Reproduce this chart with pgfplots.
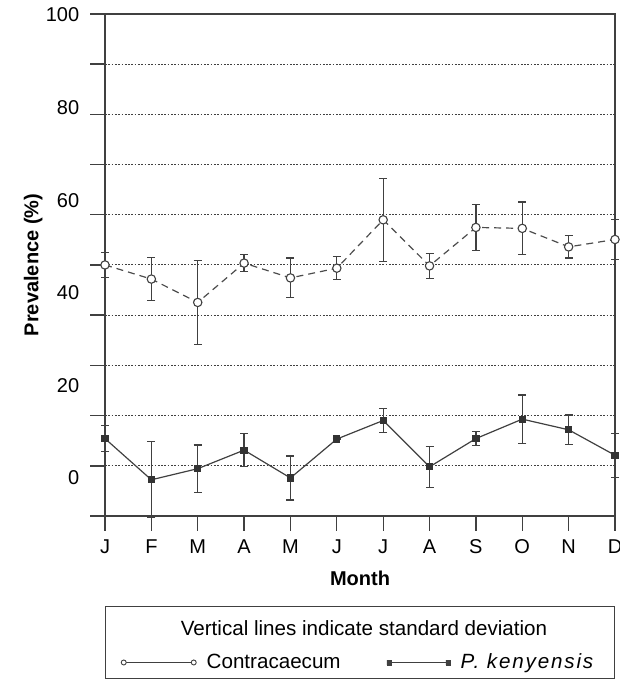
\documentclass[border=0pt]{standalone}
\usepackage{fontspec}
\setmainfont{Liberation Sans}
\usepackage{pgfplots}
\usepackage{pgfplotstable}
\pgfplotsset{compat=1.18}
\pgfplotstableread{
x y e
1 46.0 2.65
2 42.95 4.7
3 37.9 9.1
4 46.4 1.9
5 43.2 4.3
6 45.3 2.5
7 55.75 9.0
8 45.8 2.65
9 54.1 4.9
10 53.9 5.7
11 49.9 2.4
12 51.5 4.3
}\contra
\pgfplotstableread{
x y e
1 8.5 2.8
2 -0.4 8.2
3 2.0 5.1
4 6.0 3.6
5 0.0 4.75
6 8.4 0
7 12.4 2.55
8 2.4 4.4
9 8.5 1.5
10 12.7 5.2
11 10.4 3.2
12 4.9 4.75
}\kenya
\begin{document}
\fontsize{20pt}{24pt}\selectfont
\begin{tikzpicture}[font=\fontsize{20pt}{24pt}\selectfont]
\useasboundingbox (0,0) rectangle (619pt,680pt);
\begin{axis}[
  at={(105pt,164pt)}, anchor=south west,
  scale only axis, width=510pt, height=502pt,
  xmin=1, xmax=12, ymin=-8.22, ymax=100.2,
  clip=false,
  axis line style={black!75, line width=1.3pt},
  tick style={black!75, line width=1.3pt},
  tick align=outside, major tick length=15pt,
  tick pos=left,
  /pgf/number format/assume math mode=true,
  xtick={1,...,12},
  xticklabels={J,F,M,A,M,J,J,A,S,O,N,D},
  xticklabel style={yshift=-2pt},
  ytick={-8.22,2.61,13.45,24.3,35.16,46.0,56.83,67.69,78.53,89.37,100.2},
  yticklabels={},
  ymajorgrids,
  major grid style={black!75, line width=1pt, dash pattern=on 1.7pt off 1.6pt},
  extra y ticks={0,20,40,60,80,100},
  extra y tick labels={0,20,40,60,80,100},
  extra y tick style={tick style={draw=none}, grid=none, yticklabel style={xshift=-4pt}},
  xlabel={\textbf{Month}},
  ylabel={\textbf{Prevalence (\%)}},
  xlabel style={at={(axis description cs:0.5,-0.1235)}, anchor=center},
  ylabel style={at={(axis description cs:-0.141,0.5)}, anchor=center},
  legend columns=2,
  legend cell align=left,
  legend style={at={(0.498,-0.2918)}, anchor=center, draw=none, fill=none,
    font=\fontsize{20.6pt}{24pt}\selectfont,
    /tikz/every odd column/.append style={column sep=8pt},
    /tikz/every even column/.append style={column sep=44pt}},
]
\addplot[forget plot, black!70, line width=1.2pt, dash pattern=on 7pt off 5pt,
  mark=*, mark size=4.2pt,
  mark options={solid, fill=white, draw=black!75, line width=1.1pt},
  error bars/.cd, y dir=both, y explicit,
  error bar style={solid, line width=1.2pt, black!75},
  error mark options={rotate=90, mark size=4pt, line width=1.2pt, black!75}]
  table[x=x, y=y, y error=e] {\contra};
\addplot[forget plot, black!75, line width=1.2pt,
  mark=square*, mark size=3pt,
  mark options={solid, fill=black!80, draw=black!80},
  error bars/.cd, y dir=both, y explicit,
  error bar style={solid, line width=1.2pt, black!75},
  error mark options={rotate=90, mark size=4pt, line width=1.2pt, black!75}]
  table[x=x, y=y, y error=e] {\kenya};
\addlegendimage{legend image code/.code={
  \draw[black!75, line width=1.2pt] (0pt,0pt) -- (70pt,0pt);
  \draw[black!75, fill=white, line width=0.9pt] (0pt,0pt) circle (2.5pt) (70pt,0pt) circle (2.5pt);}}
\addlegendentry{Contracaecum}
\addlegendimage{legend image code/.code={
  \draw[black!75, line width=1.2pt] (0pt,0pt) -- (59pt,0pt);
  \fill[black!75] (-2.3pt,-2.3pt) rectangle (2.3pt,2.3pt) (56.7pt,-2.3pt) rectangle (61.3pt,2.3pt);}}
\addlegendentry{{\addfontfeatures{LetterSpace=9}\textit{P. kenyensis}}}
\end{axis}
\draw[black!75, line width=1pt] (105pt,1pt) rectangle (614pt,73pt);
\node[font=\fontsize{20.6pt}{24pt}\selectfont] at (364pt,52.3pt) {Vertical lines indicate standard deviation};
\end{tikzpicture}
\end{document}
